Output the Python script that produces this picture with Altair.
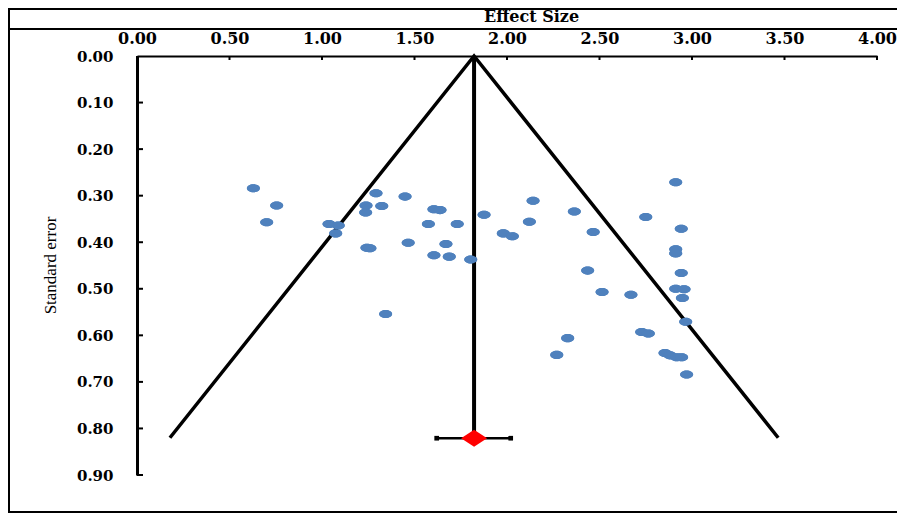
import altair as alt
import pandas as pd

# Study effect sizes and standard errors
effect = [0.629, 0.755, 0.701, 1.038, 1.088, 1.074, 1.292, 1.238, 1.323, 1.236,
          1.243, 1.259, 1.466, 1.449, 1.605, 1.638, 1.575, 1.731, 1.670, 1.605,
          1.688, 1.804, 1.876, 1.980, 2.029, 2.141, 2.121, 1.344, 2.912, 2.364,
          2.750, 2.466, 2.942, 2.912, 2.912, 2.942, 2.436, 2.514, 2.670, 2.912,
          2.957, 2.948, 2.966, 2.728, 2.764, 2.328, 2.269, 2.854, 2.881, 2.917,
          2.944, 2.971]
stderr = [0.284, 0.321, 0.357, 0.361, 0.364, 0.381, 0.295, 0.321, 0.322, 0.336,
          0.412, 0.413, 0.401, 0.302, 0.329, 0.331, 0.361, 0.361, 0.404, 0.428,
          0.431, 0.437, 0.341, 0.381, 0.387, 0.311, 0.356, 0.554, 0.271, 0.334,
          0.346, 0.378, 0.371, 0.415, 0.424, 0.466, 0.461, 0.507, 0.513, 0.500,
          0.501, 0.520, 0.571, 0.593, 0.596, 0.606, 0.642, 0.638, 0.643, 0.647,
          0.647, 0.684]

# Funnel and pooled estimate
funnel_x = [0.178, 1.822, 3.466]
funnel_y = [0.82, 0.0, 0.82]
pooled = 1.822
pooled_se = 0.821
ci_low = 1.62
ci_high = 2.02

x_ticks = [0.0, 0.5, 1.0, 1.5, 2.0, 2.5, 3.0, 3.5, 4.0]
y_ticks = [0.0, 0.1, 0.2, 0.3, 0.4, 0.5, 0.6, 0.7, 0.8, 0.9]

pts = pd.DataFrame({"es": effect, "se": stderr})
fun = pd.DataFrame({"es": funnel_x, "se": funnel_y, "o": [0, 1, 2]})
pool = pd.DataFrame({"es": [pooled], "se": [pooled_se], "lo": [ci_low], "hi": [ci_high], "top": [0.0]})
caps = pd.DataFrame({"es": [ci_low, ci_high], "se": [pooled_se, pooled_se]})
xt = pd.DataFrame({"v": x_ticks})
yt = pd.DataFrame({"v": y_ticks[1:]})
one = pd.DataFrame({"k": [0]})

FONT = "DejaVu Serif"
xscale = alt.Scale(domain=[0, 4], nice=False, zero=False)
yscale = alt.Scale(domain=[0, 0.9], nice=False, reverse=True)

xax = alt.Axis(orient="top", values=x_ticks, format=".2f", ticks=False, grid=False,
               domainColor="black", domainWidth=2, labelFont=FONT, labelFontWeight="bold",
               labelFontSize=16, labelColor="black", labelBaseline="alphabetic", labelPadding=13,
               title="Effect Size", titleFont=FONT, titleFontWeight="bold", titleFontSize=16,
               titleColor="black", titleX=394, titleY=-35, titleBaseline="alphabetic",
               titleAlign="center", labelFlush=False, labelOverlap=False)
yax = alt.Axis(orient="left", values=y_ticks, format=".2f", ticks=False, grid=False,
               domainColor="black", domainWidth=3, labelFont=FONT, labelFontWeight="bold",
               labelFontSize=15, labelColor="black", labelPadding=24, labelBaseline="middle",
               title="Standard error", titleFont="Liberation Serif", titleFontWeight="normal",
               titleFontSize=17, titleColor="black", titleX=-87, titleY=209, titleAngle=270,
               titleAlign="center", titleBaseline="middle", labelFlush=False, labelOverlap=False)

base_pts = alt.Chart(pts).mark_point(
    shape="M-1,0A1,0.62,0,1,0,1,0A1,0.62,0,1,0,-1,0Z", size=169, filled=True,
    color="#4F81BD", opacity=1, strokeWidth=0
).encode(x=alt.X("es:Q", scale=xscale, axis=xax), y=alt.Y("se:Q", scale=yscale, axis=yax))

funnel = alt.Chart(fun).mark_line(color="black", strokeWidth=3.5).encode(
    x=alt.X("es:Q", scale=xscale), y=alt.Y("se:Q", scale=yscale), order="o:Q")

vline = alt.Chart(pool).mark_rule(color="black", strokeWidth=4).encode(
    x=alt.X("es:Q", scale=xscale), y=alt.Y("top:Q", scale=yscale), y2="se:Q")

ebar = alt.Chart(pool).mark_rule(color="black", strokeWidth=2.5).encode(
    x=alt.X("lo:Q", scale=xscale), x2="hi:Q", y=alt.Y("se:Q", scale=yscale))

ecaps = alt.Chart(caps).mark_square(color="black", size=22, opacity=1).encode(
    x=alt.X("es:Q", scale=xscale), y=alt.Y("se:Q", scale=yscale))

diamond = alt.Chart(pool).mark_point(
    shape="M0,-0.65L1,0L0,0.65L-1,0Z", size=676, filled=True, color="#FF0000",
    opacity=1, strokeWidth=0
).encode(x=alt.X("es:Q", scale=xscale), y=alt.Y("se:Q", scale=yscale))

xtk = alt.Chart(xt).mark_rule(color="black", strokeWidth=2).encode(
    x=alt.X("v:Q", scale=xscale), y=alt.value(0), y2=alt.value(4))
ytk = alt.Chart(yt).mark_rule(color="black", strokeWidth=2).encode(
    y=alt.Y("v:Q", scale=yscale), x=alt.value(0), x2=alt.value(6))

frame_left = alt.Chart(one).mark_rule(color="black", strokeWidth=2).encode(
    x=alt.value(-128), y=alt.value(-47), y2=alt.value(457))
frame_top = alt.Chart(one).mark_rule(color="black", strokeWidth=2).encode(
    y=alt.value(-47), x=alt.value(-129), x2=alt.value(760))
frame_title = alt.Chart(one).mark_rule(color="black", strokeWidth=2).encode(
    y=alt.value(-27), x=alt.value(-129), x2=alt.value(760))
frame_bottom = alt.Chart(one).mark_rule(color="black", strokeWidth=2).encode(
    y=alt.value(456), x=alt.value(-129), x2=alt.value(760))

chart = alt.layer(
    base_pts, frame_left, frame_top, frame_title, frame_bottom,
    xtk, ytk, funnel, vline, ebar, ecaps,
    base_pts.encode(), diamond
).properties(
    width=740, height=419,
    padding={"left": 129, "top": 48, "right": 20, "bottom": 39},
    autosize=alt.AutoSizeParams(type="none"),
    background="white",
).configure_view(stroke=None)

chart.save("out.html", embed_options={"renderer": "svg", "actions": False})
